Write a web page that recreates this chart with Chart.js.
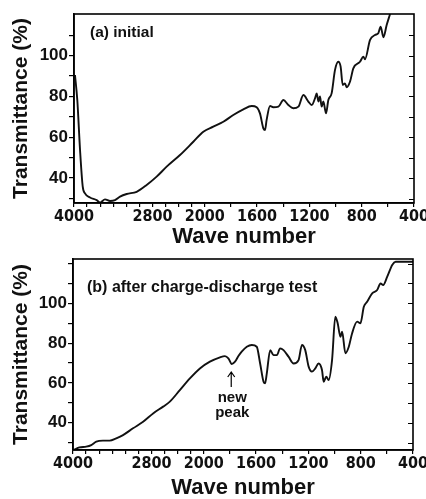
<!DOCTYPE html>
<html>
<head>
<meta charset="utf-8">
<script src="https://cdn.jsdelivr.net/npm/chart.js@4.4.1/dist/chart.umd.min.js"></script>
<style>
  html, body { margin: 0; padding: 0; background: #fff; }
  .panel { position: relative; width: 426px; }
  canvas { display: block; }
</style>
</head>
<body>
<div class="panel"><canvas id="specA" width="426" height="248"></canvas></div>
<div class="panel"><canvas id="specB" width="426" height="251"></canvas></div>
<script>
  // IR spectra
  const waveA = [3985, 3949, 3908, 3867, 3832, 3755, 3653, 3602, 3526, 3449, 3373, 3296, 3194, 3042, 2889,
    2736, 2583, 2379, 2175, 2022, 1935, 1858, 1782, 1705, 1641, 1603, 1578, 1552, 1539, 1527, 1501, 1476,
    1437, 1399, 1361, 1323, 1284, 1246, 1208, 1182, 1157, 1144, 1131, 1119, 1106, 1093, 1073, 1055, 1030,
    1004, 979, 961, 945, 928, 915, 889, 864, 813, 787, 775, 736, 698, 673, 655, 634, 609, 583];
  const transA = [90.5, 78, 54, 36, 32.5, 30.5, 29.2, 28, 29.6, 28.8, 29.2, 30.9, 32.2, 33.3, 36.6,
    40.7, 45.6, 51.3, 57.8, 62.7, 65.2, 67.6, 70.9, 73.7, 75.3, 74.7, 71.7, 64.4, 63.6, 68.5, 75.3, 74.7,
    75, 78.3, 75.8, 74.2, 75, 80.7, 77.5, 75.8, 79.1, 81.5, 77.5, 80, 75, 77.5, 71.7, 78.3, 81.5,
    93, 97, 94.6, 85.6, 86.4, 84.5, 87.3, 93.8, 97, 99.5, 98.2, 107.7, 110.1, 111, 114.2, 109, 115, 120.4];

  const waveB = [3992, 3900, 3798, 3721, 3644, 3542, 3440, 3338, 3235, 3082, 2928, 2775, 2621, 2519, 2366,
    2212, 2059, 1953, 1876, 1838, 1812, 1786, 1761, 1735, 1710, 1671, 1633, 1595, 1569, 1543, 1531, 1518,
    1492, 1467, 1441, 1416, 1390, 1352, 1313, 1275, 1249, 1224, 1198, 1173, 1147, 1122, 1096, 1083, 1063,
    1045, 1019, 994, 976, 955, 942, 917, 891, 866, 827, 802, 776, 751, 712, 674, 648, 628, 597, 559, 533, 400];
  const transB = [26.3, 27.6, 28, 28.8, 30.5, 31, 31, 32.2, 33.8, 37.2, 40.5, 44.7, 48.1, 50.6, 56.4,
    62.3, 67.3, 70.7, 72.9, 73.5, 72.4, 69.5, 70.7, 73.5, 75.7, 78.2, 79.1, 78.2, 69.8, 60.6, 59.8, 64.8,
    76.5, 74, 74, 77.4, 76.5, 73.2, 69.8, 71.5, 79.1, 76.5, 68.2, 65.7, 67.3, 69.8, 66.5, 60.6, 63.2,
    61.5, 71.5, 93.3, 90, 83.2, 85.8, 74.9, 78.2, 84.9, 90.8, 90, 98.3, 100.8, 105, 106.7, 110, 109.2, 113.4, 119.3, 120.9, 120.9];

  // axis ticks
  const xTickWaves = [4000, 3800, 3600, 3400, 3200, 3000, 2800, 2600, 2400, 2200, 2000,
    1800, 1600, 1400, 1200, 1000, 800, 600, 400];
  const xLabelWaves = [4000, 2800, 2000, 1600, 1200, 800, 400];
  const yTickValsA = [30, 40, 50, 60, 70, 80, 90, 100, 110];
  const yTickValsB = [30, 40, 50, 60, 70, 80, 90, 100, 110, 120];
  const yLabelVals = [40, 60, 80, 100];

  const NEW_PEAK_WAVE = 1790;

  // abscissa is expanded 2x below 2000 cm-1, like the spectrometer chart paper
  function toPos(w) { return w >= 2000 ? (4000 - w) / 2 : 1000 + (2000 - w); }
  function fromPos(p) { return p <= 1000 ? 4000 - 2 * p : 2000 - (p - 1000); }

  const SANS = "'Liberation Sans', Arial, Helvetica, sans-serif";
  const NARROW = "'Liberation Sans Narrow', 'DejaVu Sans Condensed', " + SANS;

  // frame, right-hand inner ticks and the text notes
  const framePlugin = {
    id: 'frame',
    afterDraw(chart, args, opts) {
      const { ctx, chartArea: a, scales: { x, y } } = chart;
      ctx.save();
      ctx.strokeStyle = '#000';
      ctx.lineWidth = 1.6;
      ctx.strokeRect(a.left, a.top, a.right - a.left, a.bottom - a.top);
      ctx.lineWidth = 1.2;
      ctx.beginPath();
      y.ticks.forEach(t => {
        const py = Math.round(y.getPixelForValue(t.value)) + 0.5;
        ctx.moveTo(a.right, py);
        ctx.lineTo(a.right - 5, py);
      });
      ctx.stroke();

      ctx.fillStyle = '#111';
      ctx.font = 'bold ' + opts.size + 'px ' + SANS;
      ctx.textBaseline = 'middle';
      ctx.textAlign = 'left';
      ctx.fillText(opts.title, a.left + opts.dx, a.top + opts.dy);

      if (opts.arrow) {
        const ax = x.getPixelForValue(toPos(NEW_PEAK_WAVE));
        const ay = y.getPixelForValue(65.5);
        ctx.lineWidth = 1.2;
        ctx.beginPath();
        ctx.moveTo(ax, ay);
        ctx.lineTo(ax, ay + 15);
        ctx.moveTo(ax - 3.5, ay + 5);
        ctx.lineTo(ax, ay);
        ctx.lineTo(ax + 3.5, ay + 5);
        ctx.stroke();
        ctx.textAlign = 'center';
        ctx.font = 'bold 15px ' + SANS;
        ctx.fillText('new', ax + 1, ay + 26);
        ctx.fillText('peak', ax + 1, ay + 41);
      }
      ctx.restore();
    }
  };

  function makeSpectrum(canvasId, waves, trans, cfg) {
    const ctx = document.getElementById(canvasId);
    const points = waves.map((w, i) => ({ x: toPos(w), y: trans[i] }));

    return new Chart(ctx, {
      type: 'line',
      data: {
        datasets: [{
          data: points,
          borderColor: '#111',
          borderWidth: 1.9,
          pointRadius: 0,
          cubicInterpolationMode: 'monotone',
          fill: false
        }]
      },
      options: {
        responsive: false,
        animation: false,
        devicePixelRatio: 1,
        layout: { padding: { top: cfg.top, right: cfg.right, left: 0, bottom: 0 } },
        plugins: {
          legend: { display: false },
          tooltip: { enabled: false },
          frame: { title: cfg.title, size: cfg.noteSize, dx: cfg.dx, dy: cfg.dy, arrow: cfg.arrow }
        },
        scales: {
          x: {
            type: 'linear',
            min: 0,
            max: 2600,
            afterBuildTicks: s => { s.ticks = xTickWaves.map(w => ({ value: toPos(w) })); },
            afterFit: s => {
              s.height = cfg.xHeight;
              s.paddingLeft = 0;
              s.paddingRight = 0;
            },
            grid: { drawOnChartArea: false, tickLength: 4, color: '#000', lineWidth: 1.2 },
            border: { color: '#000', width: 1.6 },
            ticks: {
              autoSkip: false,
              maxRotation: 0,
              padding: 0,
              color: '#111',
              font: { family: NARROW, size: 16, weight: 'bold' },
              callback: v => {
                const w = Math.round(fromPos(v));
                return xLabelWaves.includes(w) ? String(w) : '';
              }
            },
            title: {
              display: true,
              text: 'Wave number',
              color: '#111',
              padding: { top: 0, bottom: 0 },
              font: { family: SANS, size: 22, weight: 'bold', lineHeight: 1 }
            }
          },
          y: {
            min: cfg.yMin,
            max: cfg.yMax,
            afterBuildTicks: s => { s.ticks = cfg.yTicks.map(v => ({ value: v })); },
            afterFit: s => {
              s.width = cfg.yWidth;
              s.paddingTop = 0;
              s.paddingBottom = 0;
            },
            grid: { drawOnChartArea: false, tickLength: 5, color: '#000', lineWidth: 1.2 },
            border: { color: '#000', width: 1.6 },
            ticks: {
              autoSkip: false,
              padding: 1,
              color: '#111',
              font: { family: SANS, size: 17, weight: 'bold' },
              callback: v => yLabelVals.includes(v) ? String(v) : ''
            },
            title: {
              display: true,
              text: 'Transmittance (%)',
              color: '#111',
              padding: { top: 11, bottom: 0 },
              font: { family: SANS, size: 21, weight: 'bold', lineHeight: 1 }
            }
          }
        }
      },
      plugins: [framePlugin]
    });
  }

  makeSpectrum('specA', waveA, transA, {
    top: 14, right: 12, yWidth: 74, xHeight: 45,
    yMin: 27.8, yMax: 120.4, yTicks: yTickValsA,
    title: '(a) initial', noteSize: 15.5, dx: 16, dy: 19, arrow: false
  });

  makeSpectrum('specB', waveB, transB, {
    top: 11, right: 13, yWidth: 73, xHeight: 49,
    yMin: 26.3, yMax: 122.3, yTicks: yTickValsB,
    title: '(b) after charge-discharge test', noteSize: 16, dx: 14, dy: 29, arrow: true
  });
</script>
</body>
</html>
